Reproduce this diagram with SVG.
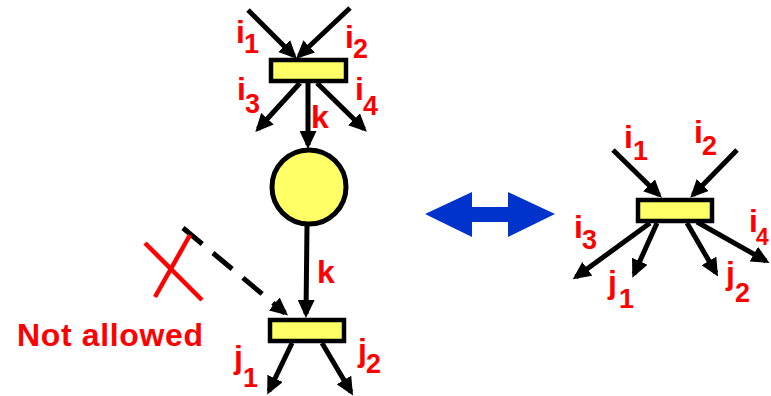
<svg xmlns="http://www.w3.org/2000/svg" width="771" height="396" viewBox="0 0 771 396">
<style>
.tr{fill:#FFFF66;stroke:#000;stroke-width:4.5}
.pl{fill:#FFFF66;stroke:#000;stroke-width:5}
.ar{stroke:#000;stroke-width:5;fill:none;marker-end:url(#ah)}
.da{stroke:#000;stroke-width:5;fill:none;stroke-dasharray:25 14;marker-end:url(#ah)}
.lb{font-family:"Liberation Sans",Arial,sans-serif;font-weight:bold;fill:#FF0000;font-size:32px}
.sb{font-size:27px}
</style>
<defs>
<marker id="ah" markerUnits="userSpaceOnUse" markerWidth="18" markerHeight="17" viewBox="0 0 18 17" refX="14" refY="8.5" orient="auto">
<path d="M0,0 L18,8.5 L0,17 z" fill="#000"/>
</marker>
</defs>
<rect width="771" height="396" fill="#fff"/>
<g id="connectors">
<line class="ar" x1="248" y1="10" x2="294" y2="56"/>
<line class="ar" x1="350" y1="8" x2="299" y2="56"/>
<line class="ar" x1="300" y1="83" x2="258" y2="129"/>
<line class="ar" x1="317" y1="83" x2="364" y2="129"/>
<line class="ar" x1="308" y1="83" x2="308" y2="145"/>
<line class="ar" x1="307" y1="226" x2="306" y2="314"/>
<line class="da" x1="183" y1="228" x2="285" y2="313"/>
<line class="ar" x1="292" y1="343" x2="269" y2="391"/>
<line class="ar" x1="322" y1="343" x2="351" y2="392"/>
<line class="ar" x1="613" y1="150" x2="659" y2="195"/>
<line class="ar" x1="737" y1="150" x2="693" y2="195"/>
<line class="ar" x1="650" y1="223" x2="576" y2="277"/>
<line class="ar" x1="657" y1="223" x2="634" y2="274"/>
<line class="ar" x1="687" y1="223" x2="716" y2="273"/>
<line class="ar" x1="697" y1="222" x2="766" y2="261"/>
</g>
<g id="t1"><rect class="tr" x="271" y="60" width="75" height="21"/></g>
<g id="p"><circle class="pl" cx="309" cy="187" r="37"/></g>
<g id="t2"><rect class="tr" x="270" y="320" width="74" height="21"/></g>
<g id="t3"><rect class="tr" x="638" y="200" width="74" height="21"/></g>
<g id="swap"><polygon fill="#0033CC" points="425,214 472,192 472,207 508,207 508,192 555,214 508,237 508,222 472,222 472,237"/></g>
<g id="notallowed">
<line x1="145" y1="243" x2="202" y2="300" stroke="#FF0000" stroke-width="4.5"/>
<line x1="190" y1="235" x2="155" y2="297" stroke="#FF0000" stroke-width="4.5"/>
<text class="lb" x="17" y="346" textLength="186">Not allowed</text>
</g>
<g id="labels">
<text class="lb" x="236" y="43">i</text><text class="lb sb" x="244" y="53">1</text>
<text class="lb" x="345" y="48">i</text><text class="lb sb" x="353" y="58">2</text>
<text class="lb" x="237" y="100">i</text><text class="lb sb" x="245" y="113">3</text>
<text class="lb" x="355" y="100">i</text><text class="lb sb" x="363" y="115">4</text>
<text class="lb" x="311" y="128">k</text>
<text class="lb" x="317" y="283">k</text>
<text class="lb" x="234" y="368">j</text><text class="lb sb" x="243" y="387">1</text>
<text class="lb" x="358" y="361">j</text><text class="lb sb" x="366" y="373">2</text>
<text class="lb" x="624" y="148">i</text><text class="lb sb" x="633" y="160">1</text>
<text class="lb" x="694" y="143">i</text><text class="lb sb" x="702" y="155">2</text>
<text class="lb" x="574" y="238">i</text><text class="lb sb" x="582" y="249">3</text>
<text class="lb" x="608" y="293">j</text><text class="lb sb" x="619" y="308">1</text>
<text class="lb" x="726" y="284">j</text><text class="lb sb" x="735" y="302">2</text>
<text class="lb" x="749" y="232">i</text><text class="lb" x="756" y="245" style="font-size:23px">4</text>
</g>
</svg>
